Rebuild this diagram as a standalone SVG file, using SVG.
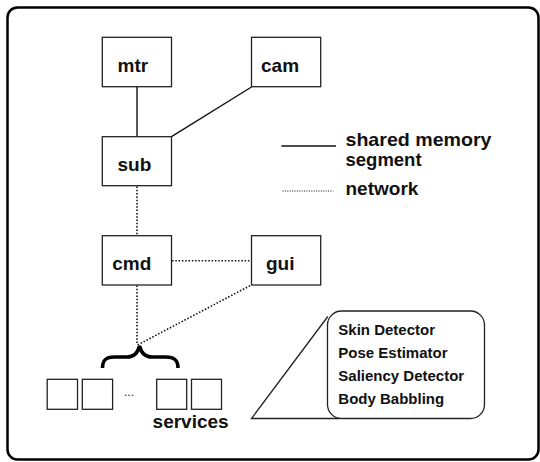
<svg xmlns="http://www.w3.org/2000/svg" width="540" height="462" viewBox="0 0 540 462">
<style>
.box{fill:#fff;stroke:#222;stroke-width:1.3}
.lbl{font-family:"Liberation Sans",Arial,sans-serif;font-weight:bold;font-size:19px;fill:#111}
.leg{font-family:"Liberation Sans",Arial,sans-serif;font-weight:bold;font-size:18.5px;fill:#111}
.sm{font-family:"Liberation Sans",Arial,sans-serif;font-weight:bold;font-size:15px;fill:#111}
.solid{stroke:#111;stroke-width:1.4;fill:none}
.dot{stroke:#111;stroke-width:1.6;fill:none;stroke-dasharray:1.5 1.8}
</style>
<rect x="7.5" y="7.5" width="531" height="452" rx="10" fill="#fff" stroke="#000" stroke-width="2.5"/>
<g id="connectors">
<line class="solid" x1="137" y1="86.7" x2="137" y2="136.7"/>
<line class="solid" x1="251.5" y1="87" x2="171.5" y2="136.7"/>
<line class="dot" x1="137" y1="186.5" x2="137" y2="235.7"/>
<line class="dot" x1="172" y1="260.7" x2="250" y2="260.7"/>
<line class="dot" x1="137" y1="285.5" x2="137" y2="345"/>
<line class="dot" x1="250" y1="285.7" x2="137.5" y2="345"/>
</g>
<g id="mtr"><rect class="box" x="102.3" y="37.3" width="69.2" height="49.4"/><text class="lbl" x="117.5" y="71.7">mtr</text></g>
<g id="cam"><rect class="box" x="251.5" y="37.3" width="69.2" height="49.4"/><text class="lbl" x="261" y="71.7">cam</text></g>
<g id="sub"><rect class="box" x="102.3" y="136.7" width="69.2" height="49"/><text class="lbl" x="117.5" y="171">sub</text></g>
<g id="cmd"><rect class="box" x="102.3" y="235.7" width="69.2" height="49.3"/><text class="lbl" x="112.3" y="270">cmd</text></g>
<g id="gui"><rect class="box" x="251.5" y="235.7" width="69.2" height="49.3"/><text class="lbl" x="266" y="270">gui</text></g>
<g id="legend">
<line class="solid" x1="281.4" y1="146" x2="336" y2="146"/>
<line x1="282.5" y1="191" x2="333.4" y2="191" stroke="#111" stroke-width="1" stroke-dasharray="1 1.4"/>
<text class="leg" x="345.5" y="145.5" textLength="146" lengthAdjust="spacingAndGlyphs">shared memory</text>
<text class="leg" x="345.5" y="166.3">segment</text>
<text class="lbl" x="345.5" y="195">network</text>
</g>
<g id="brace">
<path d="M102.5,368 C102.5,360 106,357 114,357 L127,357 C134,357 138,352 139.5,346 C141,352 145,357 152,357 L166,357 C174,357 178,360 178,368" fill="none" stroke="#000" stroke-width="3.6"/>
</g>
<g id="services">
<rect class="box" x="47.2" y="379.3" width="30.3" height="30"/>
<rect class="box" x="82.3" y="379.3" width="30.3" height="30"/>
<rect class="box" x="156.7" y="379.3" width="30" height="30"/>
<rect class="box" x="191.5" y="379.3" width="30" height="30"/>
<text x="129" y="396" font-family="Liberation Sans,Arial,sans-serif" font-size="12" text-anchor="middle" fill="#222">...</text>
<text class="lbl" x="152.6" y="428">services</text>
</g>
<g id="callout">
<rect x="327.5" y="311" width="157" height="107.5" rx="14" fill="#fff" stroke="#222" stroke-width="1.3"/>
<path d="M327.8,316.5 L251.5,418.5 L340,418.5" fill="none" stroke="#222" stroke-width="1.3"/>
<text class="sm" x="338.3" y="335">Skin Detector</text>
<text class="sm" x="338.3" y="358.3">Pose Estimator</text>
<text class="sm" x="338.3" y="381">Saliency Detector</text>
<text class="sm" x="338.3" y="404">Body Babbling</text>
</g>
</svg>
